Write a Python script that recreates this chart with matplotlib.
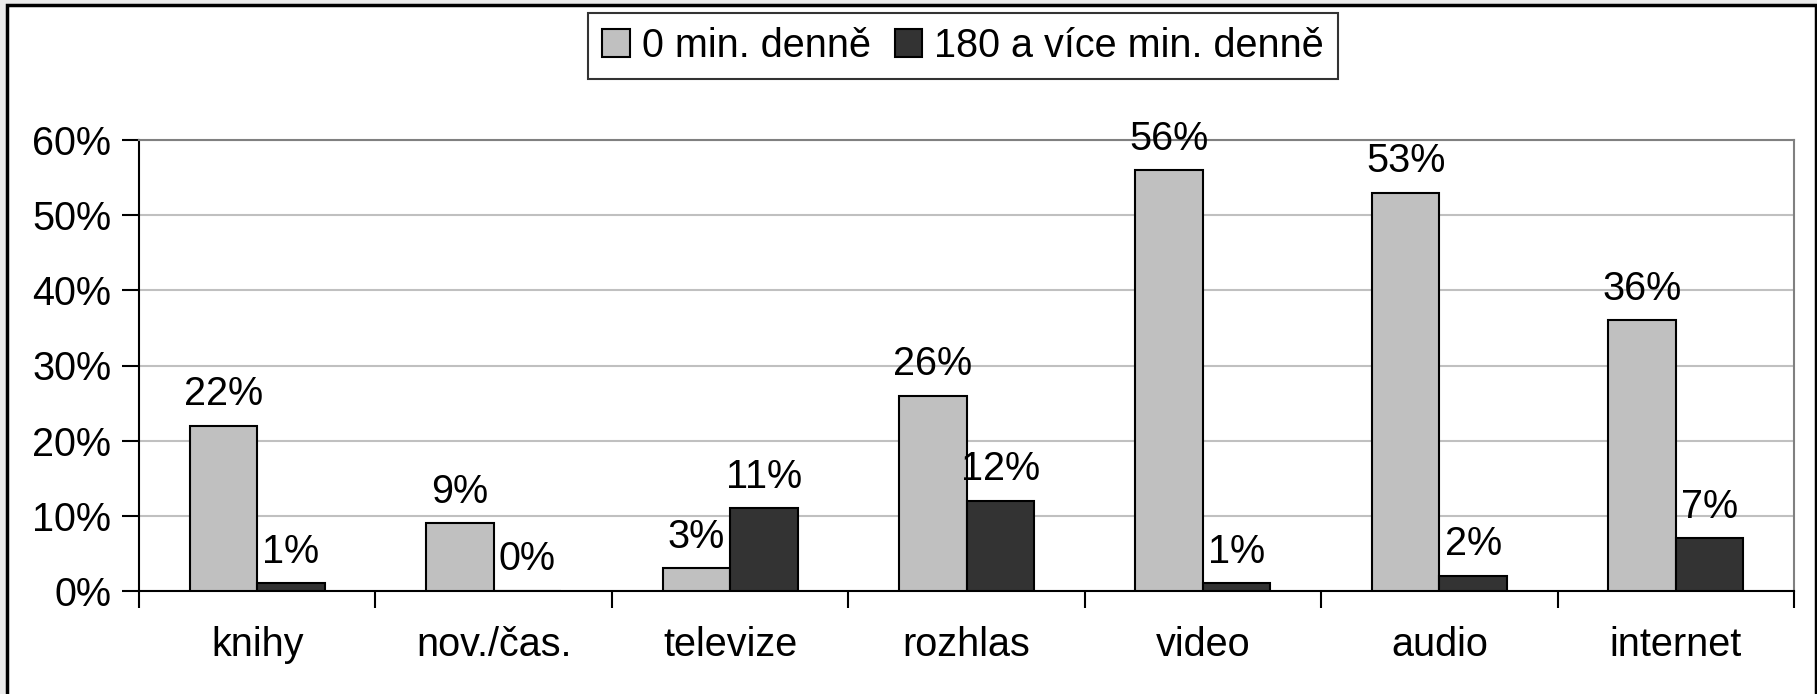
import numpy as np
import matplotlib
matplotlib.use("Agg")
from matplotlib import pyplot as plt
from matplotlib.patches import Rectangle
from matplotlib.ticker import FuncFormatter, FixedLocator

categories = ['knihy', 'nov./čas.', 'televize', 'rozhlas', 'video', 'audio', 'internet']
zero_min = [22, 9, 3, 26, 56, 53, 36]
over_180 = [1, 0, 11, 12, 1, 2, 7]
series_names = ['0 min. denně', '180 a více min. denně']

plt.rcParams['font.family'] = ['Liberation Sans', 'DejaVu Sans']
FS = 28.5

fig = plt.figure(figsize=(18.17, 6.94), dpi=100)
fig.patch.set_facecolor('#ebebeb')
# white chart area with black frame (bottom edge runs off the picture)
fig.patches.append(Rectangle((7 / 1817, -0.05), (1816 - 7) / 1817, 1.05 - 5 / 694,
                             transform=fig.transFigure, facecolor='white',
                             edgecolor='black', linewidth=2.5, zorder=-10))

ax = fig.add_axes([139 / 1817, 1 - 591 / 694, (1794 - 139) / 1817, (591 - 140) / 694])
ax.set_facecolor('white')

x = np.arange(len(categories))
w = 1 / 3.5
b1 = ax.bar(x - w / 2, zero_min, w, color='#c0c0c0', edgecolor='black', linewidth=1.5,
            label=series_names[0], zorder=3)
b2 = ax.bar(x + w / 2, over_180, w, color='#333333', edgecolor='black', linewidth=1.5,
            label=series_names[1], zorder=3)

for bars, vals in ((b1, zero_min), (b2, over_180)):
    for rect, v in zip(bars, vals):
        ax.annotate(f'{v}%', (rect.get_x() + rect.get_width() / 2, v),
                    xytext=(0, 9), textcoords='offset points',
                    ha='center', va='bottom', fontsize=FS, zorder=4)

ax.set_xlim(-0.5, len(categories) - 0.5)
ax.set_ylim(0, 60)
ax.set_yticks(np.arange(0, 61, 10))
ax.yaxis.set_major_formatter(FuncFormatter(lambda v, _: f'{v:.0f}%'))
ax.yaxis.grid(True, color='#c0c0c0', linewidth=1.5, zorder=0)
ax.set_axisbelow(True)

ax.xaxis.set_major_locator(FixedLocator(np.arange(len(categories) + 1) - 0.5))
ax.xaxis.set_minor_locator(FixedLocator(x))
ax.set_xticklabels([])
ax.set_xticklabels(categories, minor=True)
ax.tick_params(axis='x', which='major', length=12, width=1.5, direction='out')
ax.tick_params(axis='x', which='minor', length=0, labelsize=FS, pad=25)
ax.tick_params(axis='y', length=12, width=1.5, direction='out', labelsize=FS, pad=8)

for side in ('left', 'bottom'):
    ax.spines[side].set_color('black')
    ax.spines[side].set_linewidth(1.5)
for side in ('top', 'right'):
    ax.spines[side].set_color('#808080')
    ax.spines[side].set_linewidth(1.5)

leg = fig.legend(loc='center', bbox_to_anchor=(963 / 1817, 1 - 46 / 694), ncol=2,
                 fontsize=FS, frameon=True, fancybox=False, edgecolor='black',
                 handlelength=0.7, handleheight=0.7, handletextpad=0.3,
                 columnspacing=0.6, borderpad=0.35, borderaxespad=0)
leg.get_frame().set_linewidth(1.5)

fig.savefig('out.png', dpi=100, facecolor=fig.get_facecolor())
